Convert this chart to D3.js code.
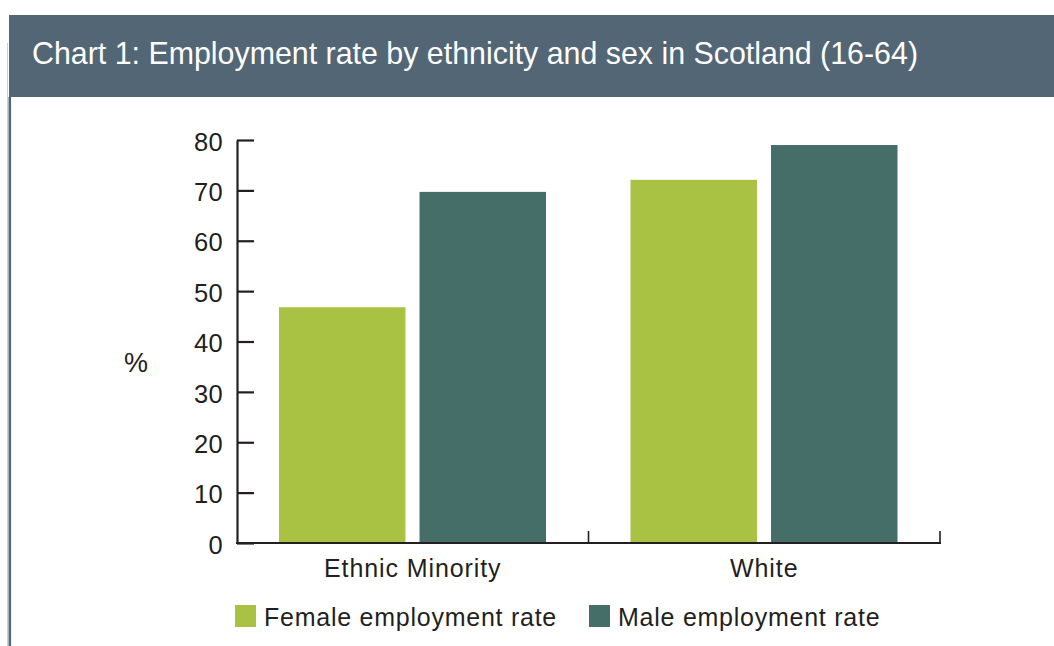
<!DOCTYPE html>
<html>
<head>
<meta charset="utf-8">
<script src="https://cdn.jsdelivr.net/npm/d3@7"></script>
<style>
  html, body { margin: 0; padding: 0; background: #fff; }
  svg { display: block; }
  text { font-family: "Liberation Sans", Arial, sans-serif; fill: #231f20; }
</style>
</head>
<body>
<svg id="chart" width="1054" height="646"></svg>
<script>
// Employment rate (16-64), Scotland
const categories = ["Ethnic Minority", "White"];
const seriesNames = ["Female employment rate", "Male employment rate"];
const femaleRate = [46.8, 72.1];
const maleRate = [69.7, 79.0];
const yTicks = [0, 10, 20, 30, 40, 50, 60, 70, 80];
const titleText = "Chart 1: Employment rate by ethnicity and sex in Scotland (16-64)";
const yLabel = "%";

const colors = ["#aac244", "#466e69"];
const ink = "#231f20";

const rows = categories.map((c, i) => ({ category: c, values: [femaleRate[i], maleRate[i]] }));

const svg = d3.select("#chart");

// Header band and left rule
svg.append("line")
  .attr("x1", 7.5).attr("x2", 7.5).attr("y1", 43).attr("y2", 646)
  .attr("stroke", "#c9d0d6").attr("stroke-width", 1);
svg.append("rect")
  .attr("x", 9).attr("y", 15).attr("width", 1045).attr("height", 82)
  .attr("fill", "#536676");
svg.append("line")
  .attr("x1", 9.8).attr("x2", 9.8).attr("y1", 97).attr("y2", 646)
  .attr("stroke", "#536676").attr("stroke-width", 2.6);
svg.append("text")
  .attr("x", 32).attr("y", 63.5)
  .attr("textLength", 886)
  .attr("lengthAdjust", "spacingAndGlyphs")
  .style("font-size", "30.5px")
  .style("fill", "#ffffff")
  .text(titleText);

// Scales
const plot = { left: 237, right: 940, top: 140, bottom: 543 };
const x0 = d3.scaleBand().domain(categories).range([plot.left, plot.right]).padding(0);
const x1 = d3.scaleBand().domain(seriesNames)
  .range([42, x0.bandwidth() - 42.5]).paddingInner(0.1).paddingOuter(0);
const y = d3.scaleLinear().domain([0, 80]).range([plot.bottom, plot.top]);

// Bars
const groups = svg.append("g").selectAll("g")
  .data(rows).join("g")
  .attr("transform", d => `translate(${x0(d.category)},0)`);
groups.selectAll("rect")
  .data(d => d.values.map((v, i) => ({ series: seriesNames[i], value: v, i })))
  .join("rect")
  .attr("x", d => x1(d.series))
  .attr("width", x1.bandwidth())
  .attr("y", d => y(d.value))
  .attr("height", d => y(0) - y(d.value))
  .attr("fill", d => colors[d.i]);

// Y axis: ticks pointing into the plot
const yAxis = svg.append("g")
  .attr("transform", `translate(${plot.left},0)`)
  .call(d3.axisLeft(y).tickValues(yTicks).tickSize(-17).tickPadding(14).tickSizeOuter(0));
yAxis.select(".domain").attr("stroke", ink).attr("stroke-width", 2.2);
yAxis.selectAll(".tick line").attr("stroke", ink).attr("stroke-width", 2.2);
yAxis.selectAll(".tick text")
  .style("font-size", "25.5px")
  .style("font-family", "'Liberation Sans', Arial, sans-serif")
  .style("letter-spacing", "0.3px")
  .attr("fill", ink)
  .attr("dy", "0.4em");

// X axis: category dividers ticking upward
const boundaries = categories.map(c => x0(c)).concat([plot.right]);
const xAxisG = svg.append("g");
xAxisG.append("line")
  .attr("x1", plot.left - 1).attr("x2", plot.right + 1)
  .attr("y1", plot.bottom).attr("y2", plot.bottom)
  .attr("stroke", ink).attr("stroke-width", 2.2);
xAxisG.selectAll("line.div")
  .data(boundaries.slice(1)).join("line")
  .attr("class", "div")
  .attr("x1", d => d).attr("x2", d => d)
  .attr("y1", plot.bottom).attr("y2", plot.bottom - 12)
  .attr("stroke", ink).attr("stroke-width", 1.6);
xAxisG.selectAll("text")
  .data(categories).join("text")
  .attr("x", d => x0(d) + x0.bandwidth() / 2)
  .attr("y", 577)
  .attr("text-anchor", "middle")
  .style("font-size", "25px")
  .style("letter-spacing", "0.9px")
  .text(d => d);

// Y label
svg.append("text")
  .attr("x", 136).attr("y", 372)
  .attr("text-anchor", "middle")
  .style("font-size", "27px")
  .text(yLabel);

// Legend
const legendX = [235, 589];
const legend = svg.append("g").selectAll("g")
  .data(seriesNames).join("g")
  .attr("transform", (d, i) => `translate(${legendX[i]},605)`);
legend.append("rect")
  .attr("width", 21).attr("height", 22)
  .attr("fill", (d, i) => colors[i]);
legend.append("text")
  .attr("x", 29).attr("y", 21)
  .style("font-size", "25px")
  .style("letter-spacing", "0.75px")
  .text(d => d);
</script>
</body>
</html>
